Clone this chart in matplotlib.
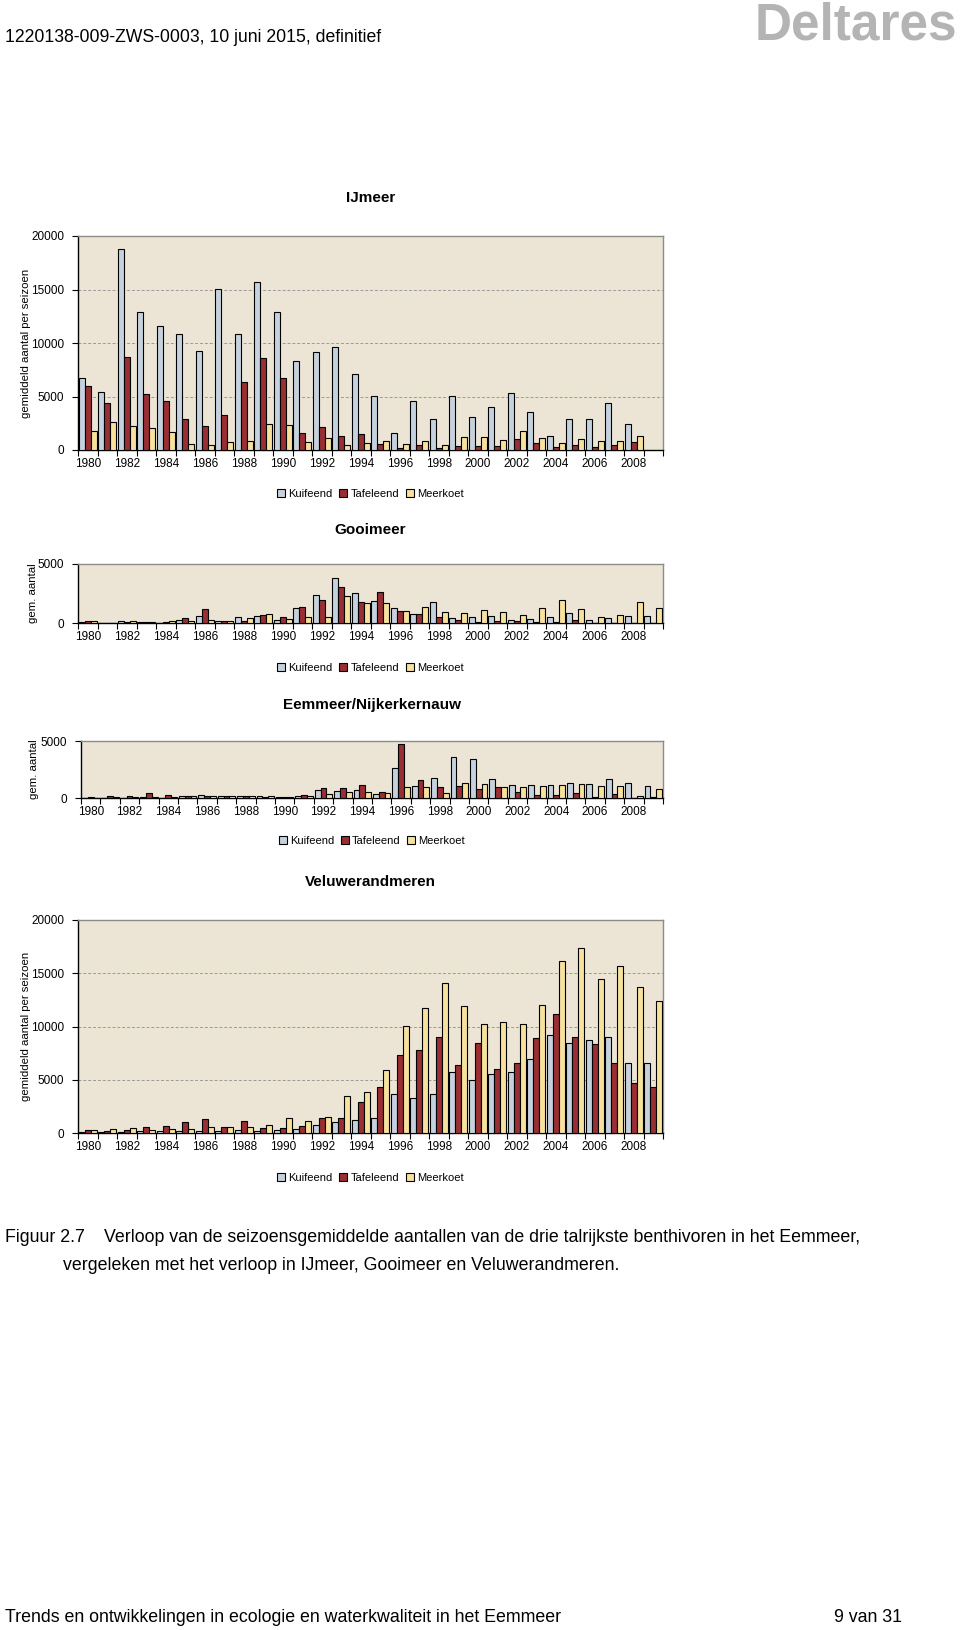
import numpy as np
import matplotlib
matplotlib.use("Agg")
import matplotlib.pyplot as plt
from matplotlib import font_manager
from matplotlib.patches import Patch

plt.rcParams['font.family'] = ['Liberation Sans', 'DejaVu Sans']

# pick a narrow face for the page text if there is one
try:
    font_manager.findfont('Liberation Sans Narrow', fallback_to_default=False)
    narrow = 'Liberation Sans Narrow'
except Exception:
    narrow = 'Liberation Sans'

years = [1980, 1981, 1982, 1983, 1984, 1985, 1986, 1987, 1988, 1989,
         1990, 1991, 1992, 1993, 1994, 1995, 1996, 1997, 1998, 1999,
         2000, 2001, 2002, 2003, 2004, 2005, 2006, 2007, 2008, 2009]
year_labels = ['1980', '1982', '1984', '1986', '1988', '1990', '1992', '1994',
               '1996', '1998', '2000', '2002', '2004', '2006', '2008']
species = ['Kuifeend', 'Tafeleend', 'Meerkoet']

# IJmeer
ij_kuif = [6700, 5450, 18750, 12870, 11590, 10810, 9220, 15080, 10810, 15730,
           12870, 8290, 9130, 9600, 7070, 5080, 1560, 4550, 2870, 5020,
           3120, 4020, 5330, 3550, 1310, 2870, 2930, 4390, 2400, None]
ij_taf = [6010, 4360, 8720, 5200, 4550, 2870, 2270, 3270, 6390, 8600,
          6760, 1590, 2120, 1280, 1530, 560, 160, 500, 190, 340,
          340, 340, 1030, 650, 250, 440, 310, 440, 720, None]
ij_meer = [1740, 2590, 2270, 2060, 1650, 590, 500, 750, 840, 2400,
           2340, 720, 1090, 500, 650, 870, 590, 810, 440, 1250,
           1250, 970, 1810, 1120, 690, 1030, 870, 810, 1340, None]

# Gooimeer
go_kuif = [50, 20, 140, 100, 20, 250, 590, 140, 510, 590,
           250, 1240, 2390, 3790, 2560, 1850, 1290, 760, 1770, 390,
           480, 590, 250, 340, 530, 840, 250, 390, 590, 590]
go_taf = [200, 20, 100, 50, 50, 390, 1150, 140, 200, 670,
          480, 1380, 1990, 3010, 1800, 2610, 1010, 790, 530, 220,
          50, 200, 200, 50, 50, 220, 0, 0, 0, 0]
go_meer = [140, 20, 200, 50, 140, 200, 250, 200, 420, 730,
           340, 480, 480, 2330, 1660, 1710, 1010, 1350, 960, 840,
           1100, 900, 670, 1240, 1940, 1180, 530, 670, 1770, 1240]

# Eemmeer/Nijkerkernauw
ee_kuif = [0, 0, 0, 50, 0, 150, 290, 150, 200, 150,
           50, 150, 700, 640, 700, 350, 2660, 1050, 1730, 3570,
           3420, 1640, 1140, 1140, 1140, 1290, 1200, 1640, 1290, 1080]
ee_taf = [90, 200, 200, 410, 290, 150, 150, 150, 150, 120,
          50, 290, 850, 850, 1140, 560, 4740, 1550, 990, 1050,
          760, 990, 500, 290, 290, 410, 90, 350, 0, 90]
ee_meer = [0, 90, 90, 60, 90, 150, 150, 150, 150, 150,
           50, 150, 350, 500, 560, 410, 990, 990, 410, 1290,
           1200, 990, 990, 1050, 1140, 1200, 1080, 1080, 200, 760]

# Veluwerandmeren
ve_kuif = [60, 60, 60, 160, 160, 160, 160, 160, 250, 160,
           250, 380, 750, 1060, 1220, 1440, 3690, 3310, 3690, 5750,
           4970, 5530, 5750, 6910, 9160, 8440, 8690, 9000, 6590, 6530]
ve_taf = [310, 160, 250, 530, 690, 1000, 1310, 530, 1160, 470,
          470, 690, 1380, 1380, 2910, 4310, 7310, 7750, 9060, 6380,
          8440, 6000, 6530, 8910, 11220, 9060, 8310, 6530, 4720, 4310]
ve_meer = [310, 380, 440, 310, 380, 410, 590, 530, 530, 750,
           1380, 1160, 1530, 3440, 3840, 5910, 10060, 11750, 14130, 11880,
           10190, 10380, 10280, 12030, 16190, 17410, 14500, 15720, 13750, 12440]

colors = ['#C5D2DE', '#992E33', '#F6E19D']
bg = '#ECE4D4'

W, H = 960, 1630
fig = plt.figure(figsize=(W / 100, H / 100), dpi=100)


def add_panel(title, data, ymax, step, box, ylabel, legend_y, title_y):
    left, top, right, bottom = box
    ax = fig.add_axes([left / W, 1 - bottom / H, (right - left) / W, (bottom - top) / H])
    ax.set_facecolor(bg)
    x = np.arange(len(years)) + 0.5
    w = 0.3
    for k, vals in enumerate(data):
        v = np.array([np.nan if a is None else a for a in vals], dtype=float)
        ax.bar(x + (k - 1) * w, v, w, color=colors[k], edgecolor='black', linewidth=0.8, zorder=3)
    ax.set_xlim(0, len(years))
    ax.set_ylim(0, ymax)
    yt = np.arange(0, ymax + 1, step)
    ax.set_yticks(yt)
    ax.set_yticklabels([str(int(t)) for t in yt], fontsize=8.5)
    for t in yt[1:-1]:
        ax.axhline(t, color='#9a9a9a', linestyle=(0, (3, 2)), linewidth=0.7, zorder=1)
    # tick marks between categories, labels under every other group
    ax.set_xticks(np.arange(0, len(years) + 1))
    ax.set_xticklabels([])
    ax.set_xticks(np.arange(0, 29, 2) + 0.5, minor=True)
    ax.set_xticklabels(year_labels, minor=True, fontsize=8.5)
    ax.tick_params(axis='x', which='major', length=4, width=0.8, direction='out')
    ax.tick_params(axis='x', which='minor', length=0, pad=6)
    ax.tick_params(axis='y', length=4, width=0.8, direction='out', pad=6)
    ax.spines['left'].set_color('black')
    ax.spines['bottom'].set_color('black')
    ax.spines['top'].set_color('#8c8c8c')
    ax.spines['right'].set_color('#8c8c8c')
    for s in ax.spines.values():
        s.set_linewidth(1.0)
    fig.text(((left + right) / 2) / W, 1 - title_y / H, title, ha='center', va='center',
             fontsize=11, fontweight='bold')
    fig.text(ylabel[1] / W, 1 - ((top + bottom) / 2) / H, ylabel[0],
             rotation=90, ha='center', va='center', fontsize=8.2)
    handles = [Patch(facecolor=colors[k], edgecolor='black', linewidth=0.8, label=species[k])
               for k in range(3)]
    fig.legend(handles=handles, loc='center', bbox_to_anchor=(((left + right) / 2) / W, 1 - legend_y / H),
               ncol=3, frameon=False, fontsize=8, handlelength=0.7, handleheight=0.7,
               handletextpad=0.3, columnspacing=0.6)
    return ax


add_panel('IJmeer', [ij_kuif, ij_taf, ij_meer], 20000, 5000,
          (78, 236, 663, 450), ('gemiddeld aantal per seizoen', 26), 494, 198)
add_panel('Gooimeer', [go_kuif, go_taf, go_meer], 5000, 5000,
          (78, 564, 663, 623), ('gem. aantal', 33), 668, 530)
add_panel('Eemmeer/Nijkerkernauw', [ee_kuif, ee_taf, ee_meer], 5000, 5000,
          (81, 741, 663, 798), ('gem. aantal', 34), 841, 705)
add_panel('Veluwerandmeren', [ve_kuif, ve_taf, ve_meer], 20000, 5000,
          (78, 920, 663, 1133), ('gemiddeld aantal per seizoen', 26), 1178, 882)

# page text
fig.text(5 / W, 1 - 37 / H, '1220138-009-ZWS-0003, 10 juni 2015, definitief',
         ha='left', va='center', fontsize=12.7, family=narrow)
fig.text(957 / W, 1 - 40 / H, 'Deltares', ha='right', va='baseline', fontsize=37,
         fontweight='bold', color='#b4b4b4', family=narrow)
fig.text(5 / W, 1 - 1238 / H, 'Figuur 2.7', ha='left', va='center', fontsize=12.8, family=narrow)
fig.text(104 / W, 1 - 1238 / H,
         'Verloop van de seizoensgemiddelde aantallen van de drie talrijkste benthivoren in het Eemmeer,',
         ha='left', va='center', fontsize=12.8, family=narrow)
fig.text(63 / W, 1 - 1265 / H, 'vergeleken met het verloop in IJmeer, Gooimeer en Veluwerandmeren.',
         ha='left', va='center', fontsize=12.8, family=narrow)
fig.text(5 / W, 1 - 1617 / H, 'Trends en ontwikkelingen in ecologie en waterkwaliteit in het Eemmeer',
         ha='left', va='center', fontsize=12.8, family=narrow)
fig.text(834 / W, 1 - 1617 / H, '9 van 31', ha='left', va='center', fontsize=12.8, family=narrow)

fig.savefig('out.png', dpi=100, facecolor='white')
